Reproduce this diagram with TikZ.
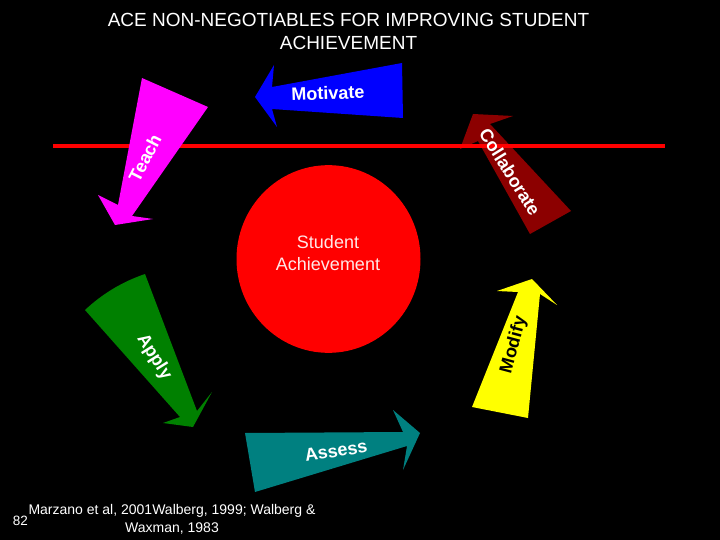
\documentclass[tikz,border=0pt]{standalone}
\usepackage{fontspec}
\setmainfont{Liberation Sans}
\definecolor{collab}{RGB}{140,0,0}
\definecolor{assessc}{RGB}{0,128,128}
\definecolor{applyc}{RGB}{0,128,0}
\definecolor{teachc}{RGB}{255,0,255}
\definecolor{motivc}{RGB}{0,0,255}
\definecolor{modifc}{RGB}{255,255,0}
\definecolor{circc}{RGB}{255,0,0}
\definecolor{circtext}{RGB}{255,232,232}
\begin{document}
\begin{tikzpicture}[x=1pt,y=-1pt,
  lbl/.style={text=white,font=\fontsize{18}{20}\selectfont\bfseries,inner sep=0pt},
  plain/.style={text=white,inner sep=0pt,align=center}]
\useasboundingbox[fill=black] (0,0) rectangle (720,540);
% title
\node[plain,font=\fontsize{19}{23}\selectfont] (title) at (348.5,31.5)
  {ACE NON-NEGOTIABLES FOR IMPROVING STUDENT\\ACHIEVEMENT};
% central circle
\node[circle,fill=circc,minimum size=184pt,inner sep=0pt,yscale=1.02] (center) at (328.5,259) {};
\node[plain,text=circtext,font=\fontsize{18}{22}\selectfont] (centertext) at (328,253)
  {Student\\Achievement};
% collaborate (under the line)
\fill[collab] (530,234) -- (478,141) -- (460,149) -- (473,114) -- (513,116) -- (490,124) -- (571,211) -- cycle;
% red line
\draw[circc,line width=3.5pt] (53,146) -- (665,146);
% teach
\fill[teachc] (142,78) -- (208,107) -- (132,216) -- (153,219) -- (115,225) -- (98,195) -- (118,205) -- cycle;
% motivate
\fill[motivc] (255,97) -- (274,65) -- (272,87) -- (402,63) -- (403,118) -- (272,109) -- (277,127) -- cycle;
% modify
\fill[modifc] (472,407) -- (518,292) -- (497,291) -- (532,279) -- (557,305) -- (540,294) -- (528,418) -- cycle;
% apply
\fill[applyc] (85,310) .. controls (102.4,293.7) and (122.4,281.7) .. (145,274) -- (197,411) -- (212,392) -- (193,427) -- (163,423) -- (180,417) -- cycle;
% assess
\fill[assessc] (245,433) -- (403,432) -- (393,410) -- (420,433) -- (403,470) -- (407,446) -- (255,492) -- cycle;
% labels
\node[lbl,rotate=2] (motivate) at (328,93) {Motivate};
\node[lbl,rotate=63] (teach) at (145,158) {Teach};
\node[lbl,rotate=-58] (collaborate) at (510,172) {Collaborate};
\node[lbl,text=black,rotate=75] (modify) at (514,345) {Modify};
\node[lbl,rotate=-58] (apply) at (154,357) {Apply};
\node[lbl,rotate=9] (assess) at (336,451) {Assess};
% footer
\node[plain,font=\fontsize{14}{18}\selectfont] (refs) at (172,519)
  {Marzano et al, 2001Walberg, 1999; Walberg \&\\Waxman, 1983};
\node[plain,font=\fontsize{13.5}{16}\selectfont] (pagenum) at (20.5,521) {82};
\end{tikzpicture}
\end{document}
